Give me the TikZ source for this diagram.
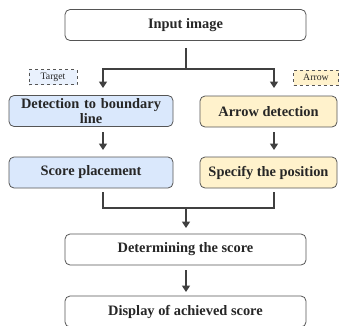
\documentclass[tikz,border=0pt]{standalone}
\usepackage{fontspec}
\setmainfont{Liberation Serif}
\usetikzlibrary{arrows.meta}
\definecolor{edgegray}{HTML}{404040}
\definecolor{boxline}{HTML}{555555}
\definecolor{textgray}{HTML}{262626}
\definecolor{bluefill}{HTML}{DAE8FC}
\definecolor{yellowfill}{HTML}{FFF2CC}
\begin{document}
\begin{tikzpicture}[x=1pt,y=-1pt,
  stepbox/.style={draw=boxline, line width=0.8pt, rounded corners=5pt, fill=white,
    text=textgray, font=\bfseries\fontsize{14.4}{16}\selectfont, align=center, inner sep=0pt},
  bluebox/.style={stepbox, fill=bluefill},
  yellowbox/.style={stepbox, fill=yellowfill},
  tagbox/.style={draw=boxline, dashed, line width=0.6pt, text=textgray,
    font=\fontsize{9.8}{10}\selectfont, inner sep=1.5pt, minimum height=15pt},
  flow/.style={draw=edgegray, line width=1.7pt},
  arr/.style={flow, -{Triangle[length=6.5pt,width=8pt]}}
]
\useasboundingbox (0,0) rectangle (341,325);
\clip (0,0) rectangle (341,325);

% process boxes
\node[stepbox, minimum width=241pt, minimum height=31pt] (input) at (185.5,25) {Input image};
\node[bluebox, minimum width=164pt, minimum height=31pt, text width=160pt] (detect) at (91,111) {Detection to boundary\\[-1pt]line};
\node[yellowbox, minimum width=137pt, minimum height=31pt] (arrowdet) at (268.5,111.5) {Arrow detection};
\node[bluebox, minimum width=164pt, minimum height=31pt] (place) at (91,172.5) {Score placement};
\node[yellowbox, minimum width=137pt, minimum height=31pt] (spec) at (268.5,172.5) {Specify the position};
\node[stepbox, minimum width=241pt, minimum height=31pt] (determ) at (185.5,249.5) {Determining the score};
\node[stepbox, minimum width=241pt, minimum height=31pt] (disp) at (185.5,311.5) {Display of achieved score};

% branch tags
\node[tagbox, fill=bluefill!60, minimum width=48pt] (tagt) at (53,77) {Target};
\node[tagbox, fill=yellowfill, minimum width=45pt] (taga) at (316,77.5) {Arrow};

% junctions
\coordinate (split) at (186,69);
\coordinate (splitl) at (103,69);
\coordinate (splitr) at (274,69);
\coordinate (mergel) at (103,208);
\coordinate (merger) at (274,208);
\coordinate (merge) at (186,208);

% connectors
\draw[flow] (input.south -| split) ++(0,7) -- (split);
\draw[arr] (split) -- (splitl) -- (103,88);
\draw[arr] (split) -- (splitr) -- (274,88);
\draw[arr] (103,132) -- (103,150);
\draw[arr] (274,132) -- (274,150);
\draw[flow] (103,192) -- (mergel) -- (merger) -- (274,192);
\draw[arr] (merge) -- (186,228);
\draw[arr] (186,270) -- (186,292);
\end{tikzpicture}
\end{document}
